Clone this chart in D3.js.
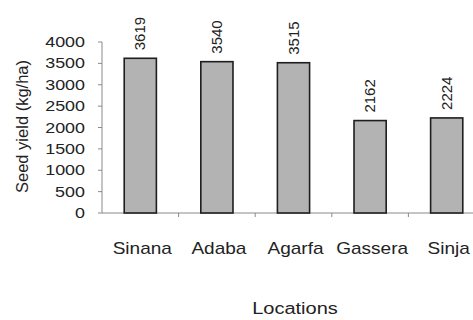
<!DOCTYPE html>
<html>
<head>
<meta charset="utf-8">
<script src="https://cdn.jsdelivr.net/npm/d3@7"></script>
<style>
  body { margin: 0; background: #fff; }
  text { font-family: "Liberation Sans", Arial, sans-serif; fill: #222; }
</style>
</head>
<body>
<div id="chart"></div>
<script>
var locations = ["Sinana", "Adaba", "Agarfa", "Gassera", "Sinja"];
var yieldValues = [3619, 3540, 3515, 2162, 2224];
var yTicks = [0, 500, 1000, 1500, 2000, 2500, 3000, 3500, 4000];

var svgWidth = 473;
var svgHeight = 320;

var margin = { top: 42, left: 102, bottom: 107 };
var height = svgHeight - margin.top - margin.bottom;
var width = 383;

var svg = d3.select("#chart")
  .append("svg")
  .attr("width", svgWidth)
  .attr("height", svgHeight);

var chartGroup = svg.append("g")
  .attr("transform", `translate(${margin.left}, ${margin.top})`);

// bars sit centred in equal cells, ticks at the cell edges
var xScale = d3.scaleBand()
  .domain(locations)
  .range([0, width])
  .paddingInner(0.58)
  .paddingOuter(0.29);

var yScale = d3.scaleLinear()
  .domain([0, 4000])
  .range([height, 0]);

var axisColor = "#8a8a8a";
var gap = (xScale.step() - xScale.bandwidth()) / 2;

// y axis
chartGroup.append("line")
  .attr("x1", 0).attr("x2", 0)
  .attr("y1", yScale(0)).attr("y2", yScale(4000))
  .attr("stroke", axisColor);

chartGroup.selectAll(".ytick")
  .data(yTicks).enter()
  .append("line")
  .attr("x1", -4).attr("x2", 0)
  .attr("y1", d => yScale(d)).attr("y2", d => yScale(d))
  .attr("stroke", axisColor);

chartGroup.selectAll(".ylabel")
  .data(yTicks).enter()
  .append("text")
  .attr("transform", d => `translate(-17, ${yScale(d) + 5}) scale(1.28, 1)`)
  .attr("text-anchor", "end")
  .style("font-size", "14px")
  .text(d => d);

// x axis
chartGroup.append("line")
  .attr("x1", 0).attr("x2", width)
  .attr("y1", height).attr("y2", height)
  .attr("stroke", axisColor);

chartGroup.selectAll(".xtick")
  .data(locations.slice(1)).enter()
  .append("line")
  .attr("x1", d => xScale(d) - gap)
  .attr("x2", d => xScale(d) - gap)
  .attr("y1", height).attr("y2", height + 4)
  .attr("stroke", axisColor);

// bars
chartGroup.selectAll("rect")
  .data(yieldValues).enter()
  .append("rect")
  .attr("x", (d, i) => xScale(locations[i]))
  .attr("y", d => yScale(d))
  .attr("width", xScale.bandwidth())
  .attr("height", d => height - yScale(d))
  .attr("fill", "#b3b3b3")
  .attr("stroke", "#1e1e1e")
  .attr("stroke-width", 1.6);

// value labels
chartGroup.selectAll(".vlabel")
  .data(yieldValues).enter()
  .append("text")
  .attr("transform", (d, i) => `translate(${xScale(locations[i]) + xScale.bandwidth() / 2 + 5}, ${yScale(d) - 8}) rotate(-90)`)
  .attr("text-anchor", "start")
  .style("font-size", "15px")
  .text(d => d);

// category labels
chartGroup.selectAll(".xlabel")
  .data(locations).enter()
  .append("text")
  .attr("transform", d => `translate(${xScale(d) + xScale.bandwidth() / 2 + 2}, ${height + 41}) scale(1.12, 1)`)
  .attr("text-anchor", "middle")
  .style("font-size", "17px")
  .text(d => d);

// axis titles
svg.append("text")
  .attr("transform", `translate(295, 314) scale(1.25, 1)`)
  .attr("text-anchor", "middle")
  .style("font-size", "16px")
  .text("Locations");

svg.append("text")
  .attr("transform", `translate(28, ${margin.top + height / 2 - 1}) rotate(-90)`)
  .attr("text-anchor", "middle")
  .style("font-size", "16.5px")
  .text("Seed yield (kg/ha)");
</script>
</body>
</html>
